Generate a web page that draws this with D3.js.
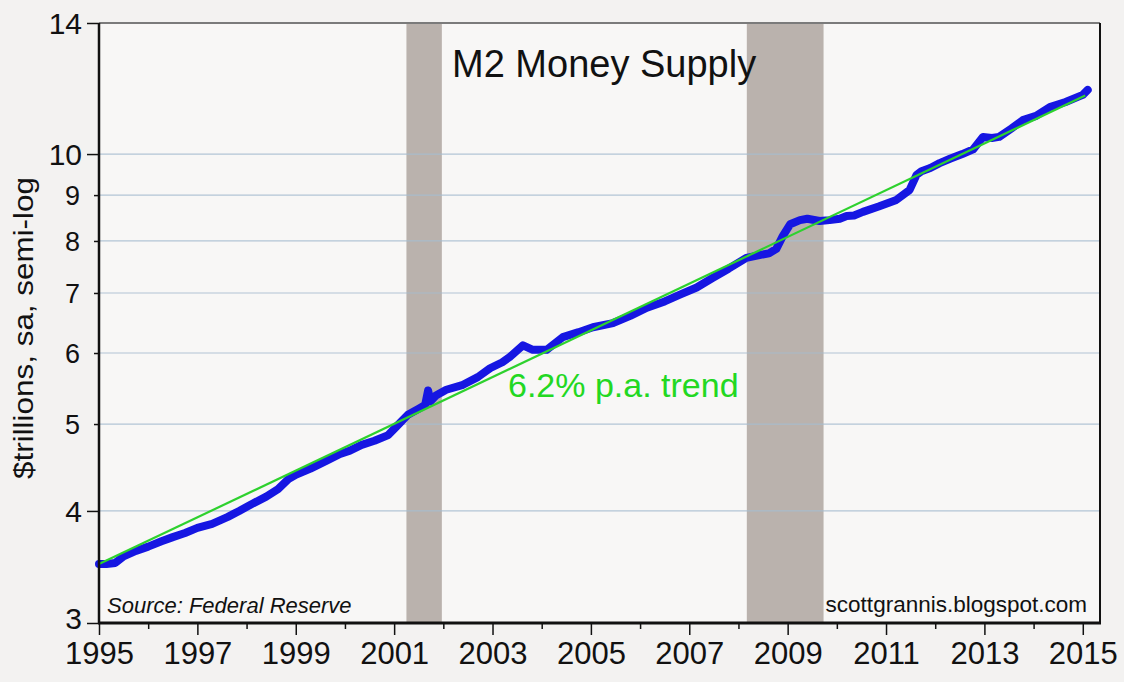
<!DOCTYPE html>
<html>
<head>
<meta charset="utf-8">
<style>
  body {
    margin: 0;
    background: #f3f2f1;
    font-family: "Liberation Sans", Arial, sans-serif;
  }
  svg { display: block; }
</style>
<script src="https://d3js.org/d3.v7.min.js"></script>
</head>
<body>
<svg id="chart"></svg>
<script>
  // M2 money supply, $ trillions
  const years = [
    1995.00, 1995.15, 1995.33, 1995.50, 1995.75, 1996.00, 1996.27, 1996.50, 1996.75,
    1997.00, 1997.30, 1997.62, 1997.85, 1998.10, 1998.40, 1998.64, 1998.85, 1999.00,
    1999.30, 1999.66, 1999.90, 2000.10, 2000.34, 2000.60, 2000.88, 2001.05, 2001.28,
    2001.50, 2001.63, 2001.69, 2001.74, 2001.85, 2002.06, 2002.40, 2002.70, 2002.95,
    2003.20, 2003.35, 2003.62, 2003.82, 2004.10, 2004.43, 2004.75, 2005.04, 2005.45,
    2005.80, 2006.14, 2006.50, 2006.81, 2007.15, 2007.48, 2007.80, 2008.16, 2008.45,
    2008.62, 2008.77, 2008.90, 2009.05, 2009.25, 2009.40, 2009.65, 2009.85, 2010.06,
    2010.20, 2010.35, 2010.53, 2010.85, 2011.21, 2011.48, 2011.62, 2011.72, 2011.90,
    2012.09, 2012.30, 2012.55, 2012.77, 2012.97, 2013.15, 2013.30, 2013.55, 2013.78,
    2014.05, 2014.33, 2014.65, 2014.90, 2015.00, 2015.10
  ];
  const m2 = [
    3.49, 3.49, 3.50, 3.56, 3.61, 3.65, 3.70, 3.74, 3.78,
    3.83, 3.87, 3.94, 4.00, 4.07, 4.15, 4.23, 4.34, 4.39,
    4.46, 4.56, 4.63, 4.67, 4.74, 4.79, 4.86, 4.97, 5.12,
    5.20, 5.25, 5.45, 5.30, 5.38, 5.46, 5.53, 5.64, 5.77,
    5.86, 5.94, 6.12, 6.05, 6.05, 6.25, 6.33, 6.41, 6.48,
    6.60, 6.74, 6.85, 6.97, 7.10, 7.28, 7.45, 7.66, 7.72,
    7.75, 7.84, 8.10, 8.35, 8.44, 8.47, 8.42, 8.44, 8.47,
    8.53, 8.54, 8.62, 8.74, 8.89, 9.12, 9.48, 9.57, 9.65,
    9.77, 9.88, 10.00, 10.12, 10.45, 10.42, 10.45, 10.68, 10.91,
    11.03, 11.28, 11.43, 11.58, 11.64, 11.79
  ];

  // 6.2% p.a. trend line end points
  const trendYears = [1995.0, 2015.05];
  const trendValues = [3.49, 11.62];

  // recessions (start, end)
  const recessionStarts = [2001.25, 2008.17];
  const recessionEnds = [2001.97, 2009.73];

  const majorYears = [1995, 1997, 1999, 2001, 2003, 2005, 2007, 2009, 2011, 2013, 2015];
  const minorYears = [1996, 1998, 2000, 2002, 2004, 2006, 2008, 2010, 2012, 2014];
  const majorValues = [3, 4, 10, 14];
  const minorValues = [5, 6, 7, 8, 9];
  const gridValues = [4, 5, 6, 7, 8, 9, 10];

  const width = 1124, height = 682;
  const margin = { top: 23, right: 24, bottom: 59, left: 99 };
  const plotLeft = margin.left, plotRight = width - margin.right;
  const plotTop = margin.top, plotBottom = height - margin.bottom;

  const svg = d3.select("#chart")
    .attr("width", width)
    .attr("height", height);

  const x = d3.scaleLinear().domain([1995, 2015.35]).range([plotLeft, plotRight]);
  const y = d3.scaleLog().domain([3, 14]).range([plotBottom, plotTop]);

  // plot background
  svg.append("rect")
    .attr("x", plotLeft).attr("y", plotTop)
    .attr("width", plotRight - plotLeft).attr("height", plotBottom - plotTop)
    .attr("fill", "#f8f7f6");

  // recession bars
  svg.append("g").selectAll("rect")
    .data(recessionStarts)
    .join("rect")
    .attr("x", d => x(d))
    .attr("y", plotTop)
    .attr("width", (d, i) => x(recessionEnds[i]) - x(d))
    .attr("height", plotBottom - plotTop)
    .attr("fill", "#bab2ad");

  // gridlines
  svg.append("g").selectAll("line")
    .data(gridValues)
    .join("line")
    .attr("x1", plotLeft).attr("x2", plotRight)
    .attr("y1", d => y(d)).attr("y2", d => y(d))
    .attr("stroke", "#a6bccf")
    .attr("stroke-opacity", 0.85)
    .attr("stroke-width", 1.2);

  // M2 line and trend line
  const trend = trendYears.map((d, i) => [d, trendValues[i]]);
  const series = years.map((d, i) => [d, m2[i]]);
  const line = d3.line().x(d => x(d[0])).y(d => y(d[1]));

  svg.append("path")
    .datum(series)
    .attr("d", line)
    .attr("fill", "none")
    .attr("stroke", "#1616e2")
    .attr("stroke-width", 8)
    .attr("stroke-linejoin", "round")
    .attr("stroke-linecap", "round");

  svg.append("path")
    .datum(trend)
    .attr("d", line)
    .attr("fill", "none")
    .attr("stroke", "#2ed12e")
    .attr("stroke-width", 2.2);

  // frame
  svg.append("line")
    .attr("x1", plotLeft).attr("x2", plotRight).attr("y1", plotTop).attr("y2", plotTop)
    .attr("stroke", "#7b7b7b").attr("stroke-width", 2);
  svg.append("line")
    .attr("x1", plotRight).attr("x2", plotRight).attr("y1", plotTop).attr("y2", plotBottom)
    .attr("stroke", "#111").attr("stroke-width", 2);
  svg.append("line")
    .attr("x1", plotLeft).attr("x2", plotLeft).attr("y1", plotTop).attr("y2", plotBottom + 1)
    .attr("stroke", "#111").attr("stroke-width", 2.5);
  svg.append("line")
    .attr("x1", plotLeft - 1).attr("x2", plotRight + 1).attr("y1", plotBottom).attr("y2", plotBottom)
    .attr("stroke", "#111").attr("stroke-width", 3);

  // x axis
  const xMajor = svg.append("g")
    .attr("transform", `translate(0,${plotBottom})`)
    .call(d3.axisBottom(x).tickValues(majorYears).tickSize(12).tickFormat(d3.format("d")));
  xMajor.select(".domain").remove();
  xMajor.selectAll("line").attr("stroke", "#111").attr("stroke-width", 1.5);
  xMajor.selectAll("text")
    .attr("y", 41).attr("dy", 0)
    .attr("fill", "#111")
    .style("font-size", "31px")
    .style("font-family", "'Liberation Sans', Arial, sans-serif");

  const xMinor = svg.append("g")
    .attr("transform", `translate(0,${plotBottom})`)
    .call(d3.axisBottom(x).tickValues(minorYears).tickSize(6).tickFormat(""));
  xMinor.select(".domain").remove();
  xMinor.selectAll("line").attr("stroke", "#111").attr("stroke-width", 1.5);

  // y axis
  const yMajor = svg.append("g")
    .attr("transform", `translate(${plotLeft},0)`)
    .call(d3.axisLeft(y).tickValues(majorValues).tickSize(12).tickPadding(5).tickFormat(d3.format("d")));
  yMajor.select(".domain").remove();
  yMajor.selectAll("line").attr("stroke", "#111").attr("stroke-width", 1.5);
  yMajor.selectAll("text")
    .attr("dy", "0.34em")
    .attr("y", d => d === 3 ? -5 : 0)
    .attr("fill", "#111")
    .style("font-size", "30px")
    .style("font-family", "'Liberation Sans', Arial, sans-serif");

  const yMinor = svg.append("g")
    .attr("transform", `translate(${plotLeft},0)`)
    .call(d3.axisLeft(y).tickValues(minorValues).tickSize(5).tickPadding(14).tickFormat(d3.format("d")));
  yMinor.select(".domain").remove();
  yMinor.selectAll("line").attr("stroke", "#111").attr("stroke-width", 1.5);
  yMinor.selectAll("text")
    .attr("dy", "0.35em")
    .attr("fill", "#111")
    .style("font-size", "27px")
    .style("font-family", "'Liberation Sans', Arial, sans-serif");

  // y axis title
  svg.append("text")
    .attr("transform", "translate(33,328) rotate(-90)")
    .attr("text-anchor", "middle")
    .attr("textLength", 302)
    .attr("lengthAdjust", "spacingAndGlyphs")
    .attr("fill", "#111")
    .style("font-size", "28px")
    .text("$trillions, sa, semi-log");

  // chart title
  svg.append("text")
    .attr("x", 452).attr("y", 77)
    .attr("fill", "#111")
    .style("font-size", "38px")
    .text("M2 Money Supply");

  // trend label
  svg.append("text")
    .attr("x", 508).attr("y", 397)
    .attr("fill", "#22d822")
    .style("font-size", "34px")
    .text("6.2% p.a. trend");

  // source and credit
  svg.append("text")
    .attr("x", 107).attr("y", 613)
    .attr("fill", "#111")
    .style("font-size", "22px")
    .style("font-style", "italic")
    .text("Source: Federal Reserve");

  svg.append("text")
    .attr("x", 1087).attr("y", 612)
    .attr("text-anchor", "end")
    .attr("fill", "#111")
    .style("font-size", "22.5px")
    .text("scottgrannis.blogspot.com");
</script>
</body>
</html>
